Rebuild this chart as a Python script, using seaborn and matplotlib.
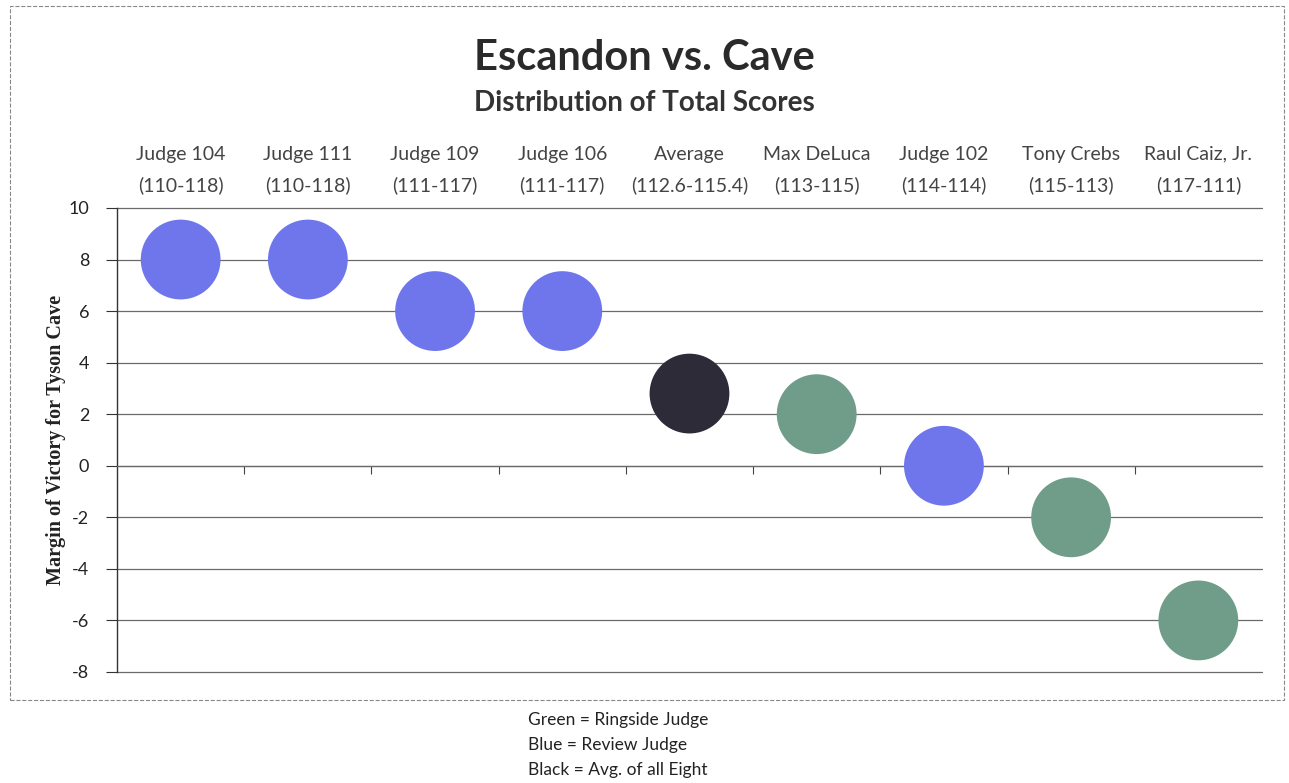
import numpy as np
import pandas as pd
import matplotlib
matplotlib.use("Agg")
import matplotlib.pyplot as plt
import seaborn as sns
from matplotlib.patches import Rectangle

# --- data ---
judges = ['Judge 104', 'Judge 111', 'Judge 109', 'Judge 106', 'Average',
          'Max DeLuca', 'Judge 102', 'Tony Crebs', 'Raul Caiz, Jr.']
scores = ['(110-118)', '(110-118)', '(111-117)', '(111-117)', '(112.6-115.4)',
          '(113-115)', '(114-114)', '(115-113)', '(117-111)']
margins = [8, 8, 6, 6, 2.8, 2, 0, -2, -6]
kinds = ['Review', 'Review', 'Review', 'Review', 'Average',
         'Ringside', 'Review', 'Ringside', 'Ringside']

palette = {'Review': '#6f76ec', 'Average': '#2d2b38', 'Ringside': '#6f9d89'}

df = pd.DataFrame({'judge': judges, 'score': scores, 'margin': margins, 'kind': kinds})
df['pos'] = np.arange(1, len(df) + 1)

sns.set_style('white')
plt.rcParams['font.family'] = ['Lato', 'DejaVu Sans']
plt.rcParams['axes.unicode_minus'] = False

fig = plt.figure(figsize=(12.89, 7.83), dpi=100)
ax = fig.add_axes([0.0908, 0.1418, 0.8882, 0.5926])

sns.scatterplot(data=df, x='pos', y='margin', hue='kind', palette=palette,
                s=3300, linewidth=0, legend=False, ax=ax, zorder=3)

ax.set_xlim(0.5, len(df) + 0.5)
ax.set_ylim(-8, 10)
ax.set_yticks(np.arange(-8, 11, 2))
ax.yaxis.grid(True, color='#6a6a6a', linewidth=0.9, zorder=0)
for gl in ax.get_ygridlines():
    gl.set_clip_on(False)
ax.set_axisbelow(True)

# category labels on top, boundary ticks on the zero line
ax.set_xticks(df['pos'])
ax.set_xticklabels([f"{j}\n{s}" for j, s in zip(df['judge'], df['score'])])
ax.set_xticks(np.arange(1.5, len(df), 1), minor=True)
ax.tick_params(axis='x', which='major', top=True, labeltop=True, bottom=False,
               labelbottom=False, length=0, pad=10, labelsize=14,
               labelcolor='#444444')
ax.tick_params(axis='x', which='minor', bottom=True, top=False, length=6,
               width=0.8, color='#444444', direction='out')
ax.spines['bottom'].set_position(('data', 0))
ax.spines['bottom'].set_color('#6a6a6a')
ax.spines['bottom'].set_linewidth(0.9)
for side in ['top', 'right']:
    ax.spines[side].set_visible(False)
ax.spines['left'].set_color('#333333')
ax.spines['left'].set_linewidth(1)
ax.tick_params(axis='y', left=True, length=8, width=0.8, color='#333333',
               labelsize=13, labelcolor='#222222', pad=12)

ax.set_xlabel('')
ax.set_ylabel('Margin of Victory for Tyson Cave', family='Liberation Serif',
              fontweight='bold', fontsize=14.5, color='#222222', labelpad=2)

fig.text(0.5, 0.926, 'Escandon vs. Cave', ha='center', va='center',
         fontsize=30, fontweight='bold', color='#2a2a2a')
fig.text(0.5, 0.869, 'Distribution of Total Scores', ha='center', va='center',
         fontsize=20, fontweight='bold', color='#333333')

legend_lines = ['Green = Ringside Judge', 'Blue = Review Judge', 'Black = Avg. of all Eight']
for i, line in enumerate(legend_lines):
    fig.text(0.41, 0.080 - i * 0.032, line, ha='left', va='center',
             fontsize=12.5, color='#222222')

fig.patches.append(Rectangle((0.008, 0.106), 0.988, 0.886, transform=fig.transFigure,
                             fill=False, edgecolor='#888888', linewidth=0.8,
                             linestyle='--'))

# the two-line column labels need wider spacing; set it once the ticks exist
fig.canvas.draw()
for tick in ax.xaxis.get_major_ticks():
    tick.label2.set_linespacing(1.9)

fig.savefig('out.png', dpi=100)
